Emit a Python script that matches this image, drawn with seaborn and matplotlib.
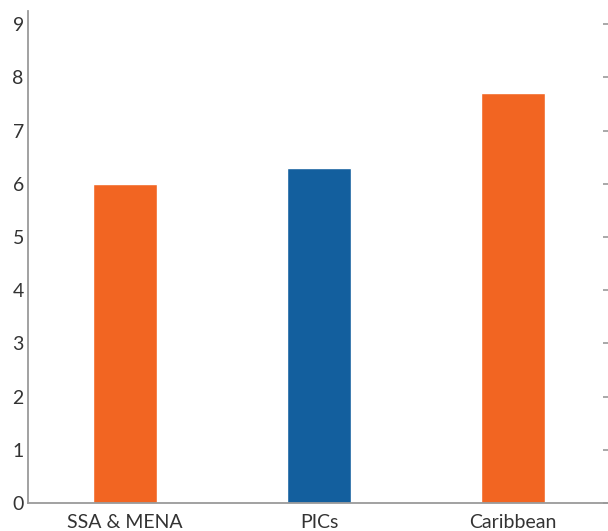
import matplotlib
matplotlib.use("Agg")
import matplotlib.pyplot as plt
import seaborn as sns
import pandas as pd

regions = ["SSA & MENA", "PICs", "Caribbean"]
values = [6.0, 6.3, 7.7]
barColors = ["#F26522", "#135F9E", "#F26522"]
yTicks = [0, 1, 2, 3, 4, 5, 6, 7, 8, 9]

sns.set_style("white")
plt.rcParams["font.family"] = ["Lato", "DejaVu Sans"]

chartData = pd.DataFrame({"region": regions, "value": values})

fig = plt.figure(figsize=(6.08, 5.31), dpi=100)
ax = fig.add_axes([28 / 608, 1 - 503 / 531, 582 / 608, 492 / 531])

sns.barplot(data=chartData, x="region", y="value", hue="region",
            palette=barColors, width=0.33, legend=False, ax=ax, saturation=1)

ax.set_xlim(-0.5, 2.5)
ax.set_ylim(0, 9.25)
ax.set_yticks(yTicks)
ax.set_xlabel("")
ax.set_ylabel("")

for side in ["top", "right"]:
    ax.spines[side].set_visible(False)
for side in ["left", "bottom"]:
    ax.spines[side].set_color("#9a9a9a")
    ax.spines[side].set_linewidth(1.3)

ax.tick_params(axis="y", direction="in", length=5, width=1.2, color="#9a9a9a",
               labelsize=14, labelcolor="#333333", right=True, pad=3)
ax.tick_params(axis="x", which="major", length=0, labelsize=14,
               labelcolor="#333333", pad=8)
ax.set_xticks([0.5, 1.5], minor=True)
ax.tick_params(axis="x", which="minor", direction="in", length=7,
               width=1.2, color="#9a9a9a")

fig.savefig("out.png", dpi=100)
plt.close(fig)
